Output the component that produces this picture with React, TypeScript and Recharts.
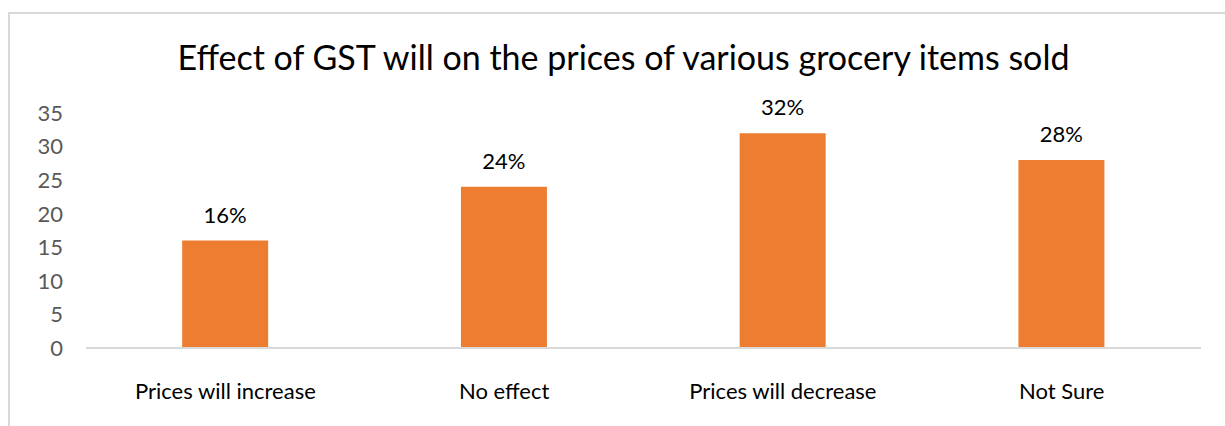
import { BarChart, Bar, XAxis, YAxis, LabelList } from 'recharts'

const categories = ['Prices will increase', 'No effect', 'Prices will decrease', 'Not Sure']
const shares = [16, 24, 32, 28]
const yTicks = [0, 5, 10, 15, 20, 25, 30, 35]

const data = categories.map((name, i) => ({ name, value: shares[i] }))

const FONT = 'Lato, "Open Sans", sans-serif'

export default function App() {
    return (
        <div style={{ position: 'absolute', left: 0, top: 0, width: 1225, height: 426, background: '#fff', overflow: 'hidden', fontFamily: FONT }}>
            {/* chart frame, cropped on right and bottom */}
            <div style={{ position: 'absolute', left: 8, top: 12, width: 1240, height: 440, border: '2px solid #d9d9d9', boxSizing: 'border-box' }} />
            <div style={{ position: 'absolute', left: 11, top: 35, width: 1225, textAlign: 'center', fontSize: 34, color: '#000', lineHeight: '44px' }}>
                Effect of GST will on the prices of various grocery items sold
            </div>
            <div style={{ position: 'absolute', left: 0, top: 0 }}>
                <BarChart
                    width={1225}
                    height={426}
                    data={data}
                    margin={{ top: 113, right: 24, left: 0, bottom: 48 }}
                    barCategoryGap="34.5%"
                >
                    <XAxis
                        dataKey="name"
                        axisLine={{ stroke: '#d9d9d9', strokeWidth: 2 }}
                        tickLine={false}
                        tick={{ fill: '#000', fontSize: 22, fontFamily: FONT }}
                        tickMargin={29}
                    />
                    <YAxis
                        domain={[0, 35]}
                        ticks={yTicks}
                        axisLine={false}
                        tickLine={false}
                        width={86}
                        tick={{ fill: '#595959', fontSize: 22, fontFamily: FONT }}
                        tickMargin={17}
                    />
                    <Bar dataKey="value" fill="#ed7d31" isAnimationActive={false}>
                        <LabelList
                            dataKey="value"
                            position="top"
                            offset={18}
                            formatter={(v: any) => `${v}%`}
                            style={{ fill: '#000', fontSize: 22, fontFamily: FONT }}
                        />
                    </Bar>
                </BarChart>
            </div>
        </div>
    )
}
